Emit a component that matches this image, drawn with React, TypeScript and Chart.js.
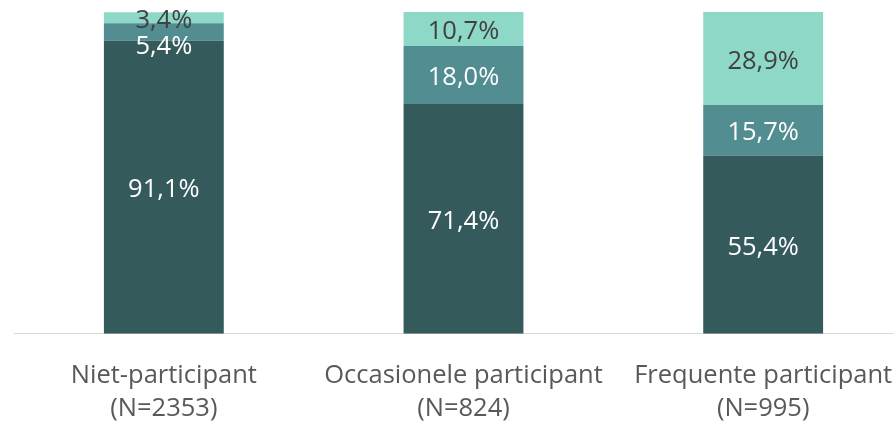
import React, { useEffect, useRef } from "react";
import { Chart, registerables } from "chart.js";

Chart.register(...registerables);

const categoryLines: string[][] = [
  ["Niet-participant", "(N=2353)"],
  ["Occasionele participant", "(N=824)"],
  ["Frequente participant", "(N=995)"],
];
const seriesDark: number[] = [91.1, 71.4, 55.4];
const seriesMid: number[] = [5.4, 18.0, 15.7];
const seriesLight: number[] = [3.4, 10.7, 28.9];
const FONT = "'Open Sans', sans-serif";

const labelPlugin = {
  id: "segLabels",
  afterDatasetsDraw(chart: any) {
    const ctx = chart.ctx;
    ctx.save();
    ctx.font = `25.5px ${FONT}`;
    ctx.textAlign = "center";
    ctx.textBaseline = "middle";
    const n = chart.data.labels.length;
    const boxH = 26;
    for (let i = 0; i < n; i++) {
      let prevBottom = -Infinity;
      for (let di = chart.data.datasets.length - 1; di >= 0; di--) {
        const ds: any = chart.data.datasets[di];
        const bar: any = chart.getDatasetMeta(di).data[i];
        let yc = (bar.y + bar.base) / 2 + 3;
        if (yc - boxH / 2 < prevBottom) yc = prevBottom + boxH / 2;
        prevBottom = yc + boxH / 2;
        ctx.fillStyle = ds.labelColor;
        ctx.fillText(ds.data[i].toFixed(1).replace(".", ",") + "%", bar.x, yc);
      }
    }
    ctx.restore();
  },
};

export default function App() {
  const ref = useRef<HTMLCanvasElement | null>(null);
  useEffect(() => {
    if (!ref.current) return;
    const chart = new Chart(ref.current, {
      type: "bar",
      data: {
        labels: categoryLines,
        datasets: [
          { data: seriesDark, backgroundColor: "#345A5C", labelColor: "#ffffff" } as any,
          { data: seriesMid, backgroundColor: "#528D92", labelColor: "#ffffff" } as any,
          { data: seriesLight, backgroundColor: "#8ED8C8", labelColor: "#404040" } as any,
        ],
      },
      options: {
        animation: false,
        responsive: false,
        devicePixelRatio: 1,
        layout: { padding: { left: 14, right: 7, top: 12, bottom: 0 } },
        datasets: { bar: { categoryPercentage: 1, barPercentage: 0.4, borderWidth: 0 } },
        plugins: { legend: { display: false }, tooltip: { enabled: false } },
        scales: {
          x: {
            stacked: true,
            grid: { display: false, drawTicks: false },
            border: { display: true, color: "#D9D9D9", width: 1 },
            ticks: {
              color: "#595959",
              font: { family: FONT, size: 25.5, lineHeight: 1.3 },
              padding: 25,
              maxRotation: 0,
              autoSkip: false,
            },
          },
          y: {
            stacked: true,
            display: false,
            min: 0,
            max: 100,
          },
        },
      },
      plugins: [labelPlugin],
    });
    return () => chart.destroy();
  }, []);
  return (
    <div style={{ position: "fixed", left: 0, top: 0, width: 920, height: 450, background: "#fff" }}>
      <canvas ref={ref} width={920} height={450} style={{ display: "block" }} />
    </div>
  );
}
